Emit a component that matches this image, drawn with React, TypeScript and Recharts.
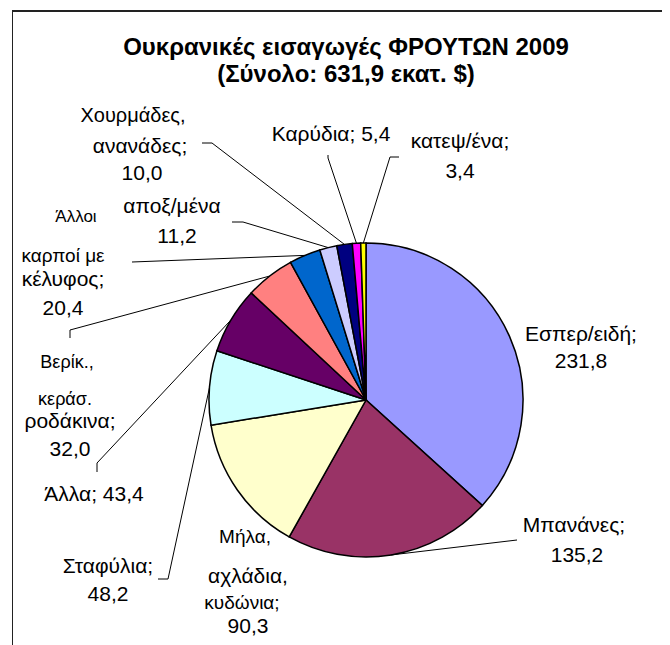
import React from "react";
import { PieChart, Pie, Cell } from "recharts";

const categories = [
  "Εσπερ/ειδή",
  "Μπανάνες",
  "Μήλα, αχλάδια, κυδώνια",
  "Σταφύλια",
  "Άλλα",
  "Βερίκ., κεράσ. ροδάκινα",
  "Άλλοι καρποί με κέλυφος",
  "αποξ/μένα",
  "Χουρμάδες, ανανάδες",
  "Καρύδια",
  "κατεψ/ένα",
];
const values = [231.8, 135.2, 90.3, 48.2, 43.4, 32.0, 20.4, 11.2, 10.0, 5.4, 3.4];
const colors = [
  "#9999FF",
  "#993366",
  "#FFFFCC",
  "#CCFFFF",
  "#660066",
  "#FF8080",
  "#0066CC",
  "#CCCCFF",
  "#000080",
  "#FF00FF",
  "#FFFF00",
];
// wrapped label text; {v} is replaced by the value
const labelLines = [
  ["Εσπερ/ειδή;", "{v}"],
  ["Μπανάνες;", "{v}"],
  ["Μήλα,", "αχλάδια,", "κυδώνια;", "{v}"],
  ["Σταφύλια;", "{v}"],
  ["Άλλα; {v}"],
  ["Βερίκ.,", "κεράσ.", "ροδάκινα;", "{v}"],
  ["Άλλοι", "καρποί με", "κέλυφος;", "{v}"],
  ["αποξ/μένα", "{v}"],
  ["Χουρμάδες,", "ανανάδες;", "{v}"],
  ["Καρύδια; {v}"],
  ["κατεψ/ένα;", "{v}"],
];
const title1 = "Ουκρανικές εισαγωγές ΦΡΟΥΤΩΝ 2009";
const title2 = "(Σύνολο: 631,9 εκατ. $)";

// label placement (page coordinates)
type LabelLayout = { xs: number[]; ys: number[]; sizes: number[]; leader: number[][] };
const labelLayout: LabelLayout[] = [
  { xs: [581, 581], ys: [333, 360], sizes: [21, 21], leader: [] },
  { xs: [574, 577], ys: [524, 554], sizes: [21, 21], leader: [[517, 540]] },
  { xs: [245, 248, 242, 248], ys: [536, 575, 602, 625], sizes: [19, 21, 19, 21], leader: [] },
  { xs: [108, 108], ys: [565, 593], sizes: [21, 21], leader: [[158, 579], [168, 579]] },
  { xs: [94], ys: [493], sizes: [21], leader: [[97, 472], [97, 463]] },
  { xs: [67, 65, 70, 70], ys: [362, 399, 420, 448], sizes: [18, 18, 21, 21], leader: [[70, 338], [70, 330]] },
  { xs: [76, 63, 63, 63], ys: [216, 255, 278, 307], sizes: [17, 19, 21, 21], leader: [[132, 262]] },
  { xs: [172, 177], ys: [205, 235], sizes: [21, 21], leader: [[232, 222], [243, 222]] },
  { xs: [133, 140, 142], ys: [115, 145, 172], sizes: [20, 21, 21], leader: [[202, 143], [212, 143]] },
  { xs: [331], ys: [133], sizes: [21], leader: [[328, 155], [328, 158]] },
  { xs: [460, 460], ys: [140, 170], sizes: [21, 21], leader: [[399, 157], [390, 157]] },
];

const OFF = 8;
const FONT = "'Liberation Sans', Arial, sans-serif";
const fmt = (v: number) => v.toFixed(1).replace(".", ",");

const data = categories.map((name, i) => ({ name, value: values[i] }));

const RAD = Math.PI / 180;

const renderLabel = (props: any) => {
  const { cx, cy, midAngle, outerRadius, index } = props;
  const lay = labelLayout[index];
  const ex = cx + outerRadius * Math.cos(-midAngle * RAD);
  const ey = cy + outerRadius * Math.sin(-midAngle * RAD);
  const pts = lay.leader.map((p) => [p[0] - OFF, p[1] - OFF]);
  const lines = labelLines[index].map((l) => l.replace("{v}", fmt(values[index])));
  return (
    <g key={`lbl-${index}`}>
      {pts.length > 0 && (
        <polyline
          points={[...pts, [ex, ey]].map((p) => p.join(",")).join(" ")}
          fill="none"
          stroke="#000"
          strokeWidth={1}
        />
      )}
      {lines.map((t, j) => (
        <text
          key={j}
          x={lay.xs[j] - OFF}
          y={lay.ys[j] - OFF}
          textAnchor="middle"
          dominantBaseline="central"
          fontFamily={FONT}
          fontSize={lay.sizes[j]}
          fill="#000"
        >
          {t}
        </text>
      ))}
    </g>
  );
};

export default function App() {
  return (
    <div style={{ position: "relative", width: 662, height: 637, overflow: "hidden", background: "#fff" }}>
      <div
        style={{
          position: "absolute",
          left: 4,
          top: 2,
          width: 653,
          height: 700,
          border: "1.5px solid #222",
          borderTopWidth: 2,
          boxSizing: "border-box",
        }}
      />
      <div
        style={{
          position: "absolute",
          left: 0,
          width: 676,
          top: 25,
          textAlign: "center",
          fontFamily: FONT,
          fontWeight: "bold",
          fontSize: 24,
          lineHeight: "27px",
          color: "#000",
        }}
      >
        <div>{title1}</div>
        <div>{title2}</div>
      </div>
      <div style={{ position: "absolute", left: 0, top: 0 }}>
        <PieChart width={662} height={637}>
          <Pie
            data={data}
            dataKey="value"
            nameKey="name"
            cx={353}
            cy={387}
            outerRadius={157}
            startAngle={90}
            endAngle={-270}
            stroke="#000"
            strokeWidth={1.5}
            label={renderLabel}
            labelLine={false}
            isAnimationActive={false}
          >
            {data.map((d, i) => (
              <Cell key={d.name} fill={colors[i]} />
            ))}
          </Pie>
        </PieChart>
      </div>
    </div>
  );
}
